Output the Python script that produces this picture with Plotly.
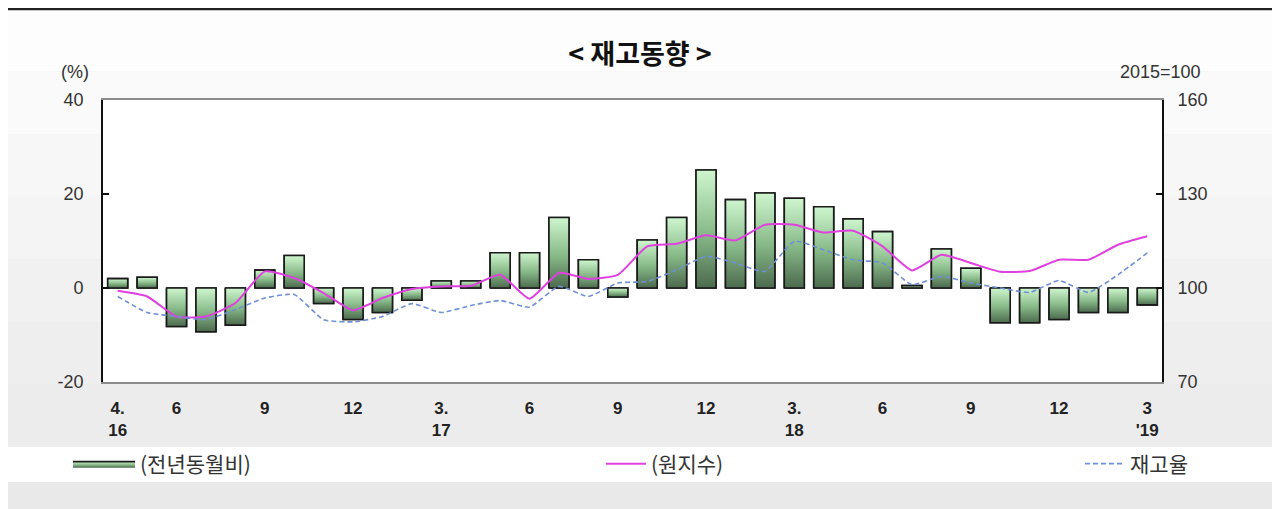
import plotly.graph_objects as go

# ---- data ----
months = ["2016-04", "2016-05", "2016-06", "2016-07", "2016-08", "2016-09", "2016-10", "2016-11", "2016-12",
          "2017-01", "2017-02", "2017-03", "2017-04", "2017-05", "2017-06", "2017-07", "2017-08", "2017-09",
          "2017-10", "2017-11", "2017-12", "2018-01", "2018-02", "2018-03", "2018-04", "2018-05", "2018-06",
          "2018-07", "2018-08", "2018-09", "2018-10", "2018-11", "2018-12", "2019-01", "2019-02", "2019-03"]
yoy_pct = [2.0, 2.3, -8.2, -9.3, -7.9, 3.8, 6.9, -3.3, -6.7, -5.2, -2.6, 1.5, 1.5, 7.5, 7.5, 15.0, 6.0, -1.9,
           10.2, 15.0, 25.1, 18.8, 20.2, 19.1, 17.3, 14.7, 12.0, 0.5, 8.3, 4.2, -7.4, -7.4, -6.7, -5.2, -5.2, -3.6]
raw_index = [99.1, 97.3, 90.9, 90.9, 95.2, 105.3, 103.2, 98.4, 92.9, 96.8, 99.7, 100.5, 100.7, 104.2, 96.6, 104.8,
             102.9, 104.2, 113.3, 114.1, 116.8, 115.2, 120.2, 120.2, 117.7, 118.3, 113.3, 105.6, 110.6, 108.0,
             105.2, 105.4, 109.0, 109.0, 113.8, 116.5]
inv_ratio = [97.3, 92.2, 90.9, 89.9, 93.1, 96.8, 97.9, 89.9, 89.2, 90.9, 95.0, 92.2, 94.4, 96.0, 93.9, 100.5,
             97.3, 101.6, 102.1, 105.8, 110.1, 108.0, 105.3, 114.9, 112.2, 109.0, 108.0, 101.1, 103.7, 101.6,
             100.0, 98.6, 102.4, 98.6, 104.2, 111.2]
tick_months = ["2016-04", "2016-06", "2016-09", "2016-12", "2017-03", "2017-06", "2017-09", "2017-12",
               "2018-03", "2018-06", "2018-09", "2018-12", "2019-03"]
tick_labels = ["4.<br>16", "6", "9", "12", "3.<br>17", "6", "9", "12", "3.<br>18", "6", "9", "12", "3<br>'19"]
left_ticks = [-20, 0, 20, 40]
left_tick_text = ["-20", "0", "20", "40"]
right_ticks = [70, 100, 130, 160]
series_names = ["(전년동월비)", "(원지수)", "재고율"]

x_idx = list(range(len(months)))
tick_idx = [months.index(m) for m in tick_months]
boundaries = [i + 0.5 for i in x_idx[:-1]]
BAR_W = 0.68

# ---- geometry (page body has an 8px margin) ----
OFF = 8
W, H = 1280 - OFF, 509 - OFF
ML, MT = 103 - OFF, 100 - OFF
MR = W - (1162 - OFF)
MB = H - (382 - OFF)
PW, PH = W - ML - MR, H - MT - MB


def px_y(p):  # screen pixel y -> paper y
    return (H - MB - (p - OFF)) / PH


def px_x(p):  # screen pixel x -> paper x
    return ((p - OFF) - ML) / PW


KFONT = "Noto Sans CJK KR"
NFONT = "Liberation Sans"
BAR_SCALE = [[0.0, "#4c6a4e"], [0.45, "#86b887"], [1.0, "#cff6cf"]]

fig = go.Figure()
# bar trace (base)
fig.add_trace(go.Bar(
    x=x_idx, y=yoy_pct, width=BAR_W, name=series_names[0],
    marker=dict(color="#93c593", line=dict(color="#1a1a1a", width=1.6)),
    showlegend=False,
))
# gradient overlay for each bar, built from the same data
for k, (xi, v) in enumerate(zip(x_idx, yoy_pct)):
    fig.add_trace(go.Scatter(
        x=[xi - BAR_W / 2, xi - BAR_W / 2, xi + BAR_W / 2, xi + BAR_W / 2, xi - BAR_W / 2],
        y=[0, v, v, 0, 0], mode="lines", fill="toself", name=series_names[0],
        fillgradient=dict(type="vertical", colorscale=BAR_SCALE),
        line=dict(color="#1a1a1a", width=1.6), hoverinfo="skip",
        legend="legend", showlegend=(k == 0), legendgroup="bars",
    ))
fig.add_trace(go.Scatter(
    x=x_idx, y=raw_index, yaxis="y2", mode="lines", name=series_names[1],
    line=dict(color="#e040e0", width=2, shape="spline", smoothing=0.5),
    legend="legend2", showlegend=True,
))
fig.add_trace(go.Scatter(
    x=x_idx, y=inv_ratio, yaxis="y2", mode="lines", name=series_names[2],
    line=dict(color="#6f8fd6", width=1.6, dash="5px,3px", shape="spline", smoothing=0.5),
    legend="legend3", showlegend=True,
))

# background decoration
shapes = []
band_cols = ["#fdfdfd", "#fafafa", "#f7f7f7", "#f4f4f4", "#f1f1f1", "#eeeeee", "#ececec"]
top, bot = 9, 447
n = len(band_cols)
for i, c in enumerate(band_cols):
    y0 = top + (bot - top) * i / n
    y1 = top + (bot - top) * (i + 1) / n
    shapes.append(dict(type="rect", xref="paper", yref="paper", x0=px_x(0), x1=px_x(1290),
                       y0=px_y(y1), y1=px_y(y0), fillcolor=c, line=dict(width=0), layer="below"))
shapes.append(dict(type="rect", xref="paper", yref="paper", x0=px_x(0), x1=px_x(1290),
                   y0=px_y(482), y1=px_y(447), fillcolor="#ffffff", line=dict(width=0), layer="below"))
shapes.append(dict(type="rect", xref="paper", yref="paper", x0=0, x1=1, y0=0, y1=1,
                   fillcolor="#ffffff", line=dict(width=0), layer="below"))
shapes.append(dict(type="line", xref="paper", yref="paper", x0=px_x(0), x1=px_x(1290),
                   y0=px_y(9), y1=px_y(9), line=dict(color="#222222", width=2.5)))

legend_common = dict(orientation="h", bgcolor="rgba(0,0,0,0)", borderwidth=0,
                     font=dict(family=KFONT, size=21, color="#333333"),
                     yanchor="middle", xanchor="left")

fig.update_layout(
    width=W, height=H, autosize=False, showlegend=True,
    margin=dict(l=ML, r=MR, t=MT, b=MB),
    paper_bgcolor="#e9e9e9", plot_bgcolor="rgba(0,0,0,0)",
    title=dict(text="<b>< 재고동향 ></b>", x=0.5 - OFF / (2 * W), xref="container", xanchor="center",
               y=1 - (55 - OFF) / H, yref="container", yanchor="middle",
               font=dict(family=KFONT, size=27, color="#111111")),
    xaxis=dict(range=[-0.5, len(months) - 0.5], tickmode="array", tickvals=tick_idx, ticktext=tick_labels,
               ticks="", showline=True, linecolor="#8c8c8c", linewidth=1.5, mirror=True,
               showgrid=False, zeroline=False, ticklabelstandoff=10,
               tickfont=dict(family=NFONT, size=17, color="#222222", weight="bold")),
    xaxis2=dict(overlaying="x", anchor="free", position=(0 - (-20)) / 60, side="bottom",
                range=[-0.5, len(months) - 0.5], tickmode="array", tickvals=boundaries,
                ticks="inside", ticklen=7, tickwidth=1.5, tickcolor="#111111",
                showticklabels=False, showline=True, linecolor="#111111", linewidth=1.5,
                showgrid=False, zeroline=False),
    yaxis=dict(range=[-20, 40], tickmode="array", tickvals=left_ticks, ticktext=left_tick_text,
               ticks="inside", ticklen=6,
               tickwidth=1.5, tickcolor="#111111", showline=True, linecolor="#111111", linewidth=1.8,
               showgrid=False, zeroline=False, ticklabelstandoff=14,
               tickfont=dict(family=NFONT, size=18, color="#333333")),
    yaxis2=dict(range=[70, 160], overlaying="y", side="right", tickmode="array", tickvals=right_ticks,
                ticks="inside", ticklen=6, tickwidth=1.5, tickcolor="#111111", showline=True,
                linecolor="#111111", linewidth=1.8, showgrid=False, zeroline=False, ticklabelstandoff=10,
                tickfont=dict(family=NFONT, size=18, color="#333333")),
    legend=dict(x=px_x(68), y=px_y(464), itemwidth=62, **legend_common),
    legend2=dict(x=px_x(601), y=px_y(464), itemwidth=40, **legend_common),
    legend3=dict(x=px_x(1080), y=px_y(464), itemwidth=40, **legend_common),
    shapes=shapes,
    annotations=[
        dict(text="(%)", xref="paper", yref="paper", x=px_x(75), y=px_y(72), xanchor="center",
             yanchor="middle", showarrow=False, font=dict(family=NFONT, size=18, color="#333333")),
        dict(text="2015=100", xref="paper", yref="paper", x=px_x(1203), y=px_y(72), xanchor="right",
             yanchor="middle", showarrow=False, font=dict(family=NFONT, size=18, color="#333333")),
    ],
)

fig.write_html("out.html")
